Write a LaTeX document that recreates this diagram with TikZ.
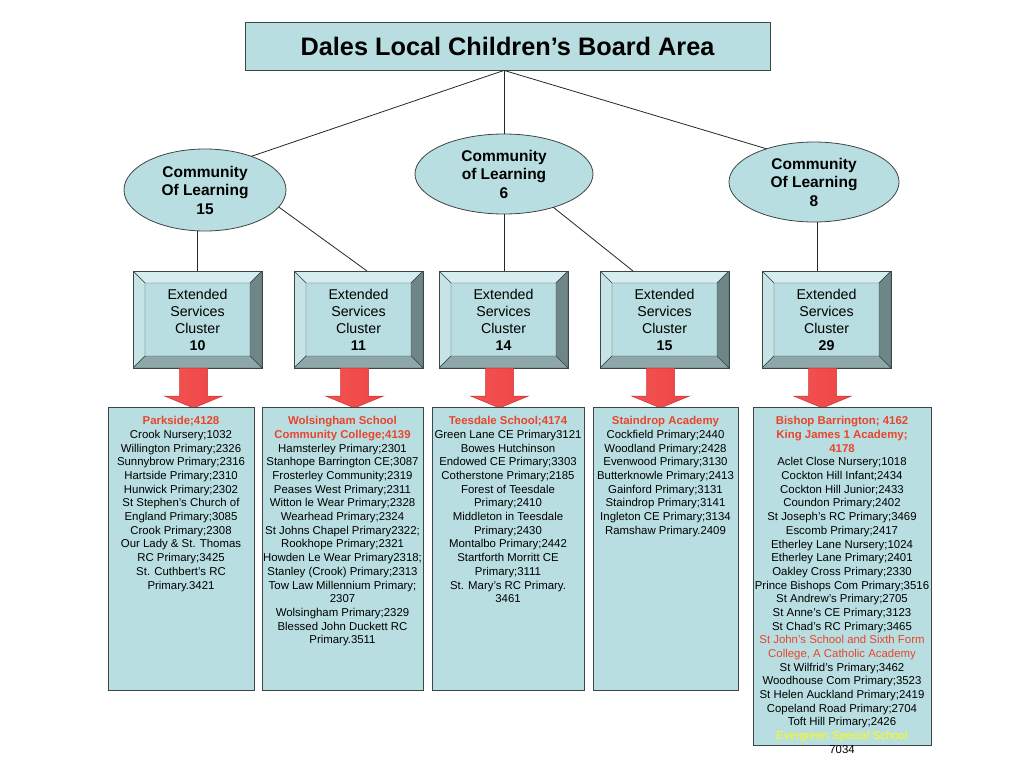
\documentclass[tikz,border=0pt]{standalone}
\usepackage{fontspec}
\setmainfont{Liberation Sans}
\usetikzlibrary{shapes.geometric}
\definecolor{boxblue}{HTML}{B9DEE1}
\definecolor{edgegrey}{HTML}{3C4646}
\definecolor{bevlight}{HTML}{D6EDEF}
\definecolor{bevside}{HTML}{C6E3E5}
\definecolor{bevdark}{HTML}{6E8688}
\definecolor{bevlow}{HTML}{8EA7A9}
\definecolor{arrowred}{HTML}{F04444}
\definecolor{arrowedge}{HTML}{C83434}
\definecolor{listred}{HTML}{E8452C}
\definecolor{listyellow}{HTML}{FFFF00}
\tikzset{
    headbox/.style={draw=edgegrey, fill=boxblue, line width=0.8pt, minimum width=525pt, minimum height=48pt, inner sep=0pt, font=\fontsize{25.3}{30}\selectfont\bfseries},
    colshape/.style={draw=edgegrey, fill=boxblue, ellipse, line width=0.8pt, inner sep=0pt, outer sep=0pt, align=center, font=\fontsize{15.5}{18.5}\selectfont\bfseries},
    cluster/.style={draw=edgegrey, fill=boxblue, line width=0.6pt, minimum width=129pt, minimum height=97pt, inner sep=0pt, outer sep=0pt,
        align=center, font=\fontsize{14.2}{17}\selectfont,
        path picture={
            \path (path picture bounding box.north west) coordinate (pnw)
                  (path picture bounding box.north east) coordinate (pne)
                  (path picture bounding box.south east) coordinate (pse)
                  (path picture bounding box.south west) coordinate (psw);
            \path ([xshift=12pt,yshift=-12pt]pnw) coordinate (qnw)
                  ([xshift=-12pt,yshift=-12pt]pne) coordinate (qne)
                  ([xshift=-12pt,yshift=12pt]pse) coordinate (qse)
                  ([xshift=12pt,yshift=12pt]psw) coordinate (qsw);
            \filldraw[fill=bevlight, draw=edgegrey, line width=0.4pt] (pnw) -- (pne) -- (qne) -- (qnw) -- cycle;
            \filldraw[fill=bevside, draw=edgegrey, line width=0.4pt] (pnw) -- (qnw) -- (qsw) -- (psw) -- cycle;
            \filldraw[fill=bevdark, draw=edgegrey, line width=0.4pt] (pne) -- (pse) -- (qse) -- (qne) -- cycle;
            \filldraw[fill=bevlow, draw=edgegrey, line width=0.4pt] (psw) -- (qsw) -- (qse) -- (pse) -- cycle;
        }},
    blockarrow/.style={left color=arrowred!92!white, right color=arrowred, draw=arrowedge, line width=0.5pt},
    listbox/.style={draw=edgegrey, fill=boxblue, line width=0.8pt, inner sep=0pt, outer sep=0pt},
    listtext/.style={anchor=north, align=center, inner sep=0pt, font=\fontsize{11.4}{13.67}\selectfont},
    conn/.style={draw=black!85, line width=0.8pt}
}
\newcommand{\schoolhead}[1]{\textcolor{listred}{\textbf{#1}}}

\begin{document}
\begin{tikzpicture}[x=1pt, y=-1pt]
    \useasboundingbox (0,0) rectangle (1024,768);

    % board and communities of learning
    \node[headbox] (area) at (507.5,46) {Dales Local Children’s Board Area};
    \node[colshape, minimum width=162pt, minimum height=82pt] (col15) at (205,190) {Community\\Of Learning\\15};
    \node[colshape, minimum width=178pt, minimum height=80pt] (col6) at (504,174) {Community\\of Learning\\6};
    \node[colshape, minimum width=170pt, minimum height=80pt] (col8) at (814,182) {Community\\Of Learning\\8};

    % extended services clusters
    \foreach \n/\x in {10/197.5, 11/358.5, 14/503.5, 15/664.5, 29/826.5} {
        \node[cluster] (c\n) at (\x,319.5) {Extended\\Services\\Cluster\\\textbf{\n}};
        \shadedraw[blockarrow] ([xshift=-18pt]c\n.south) -- ++(0,28) -- ++(-15,0) -- ++(29,12)
            -- ++(29,-12) -- ++(-15,0) -- ++(0,-28) -- cycle;
    }

    % school lists
    \node[listbox, minimum width=146pt, minimum height=283pt] (l10) at (181,548.5) {};
    \node[listbox, minimum width=161pt, minimum height=283pt] (l11) at (342.5,548.5) {};
    \node[listbox, minimum width=152pt, minimum height=283pt] (l14) at (508,548.5) {};
    \node[listbox, minimum width=145pt, minimum height=283pt] (l15) at (665.5,548.5) {};
    \node[listbox, minimum width=178pt, minimum height=338pt] (l29) at (842,576) {};

    \node[listtext] (l10text) at ([yshift=-9.5pt]l10.north) {\schoolhead{Parkside;4128}\\
        Crook Nursery;1032\\Willington Primary;2326\\Sunnybrow Primary;2316\\
        Hartside Primary;2310\\Hunwick Primary;2302\\St Stephen’s Church of\\
        England Primary;3085\\Crook Primary;2308\\Our Lady \& St. Thomas\\
        RC Primary;3425\\St. Cuthbert’s RC\\Primary.3421};
    \node[listtext] (l11text) at ([yshift=-9.5pt]l11.north) {\schoolhead{Wolsingham School}\\
        \schoolhead{Community College;4139}\\Hamsterley Primary;2301\\
        Stanhope Barrington CE;3087\\Frosterley Community;2319\\Peases West Primary;2311\\
        Witton le Wear Primary;2328\\Wearhead Primary;2324\\St Johns Chapel Primary2322;\\
        Rookhope Primary;2321\\Howden Le Wear Primary2318;\\Stanley (Crook) Primary;2313\\
        Tow Law Millennium Primary;\\2307\\Wolsingham Primary;2329\\
        Blessed John Duckett RC\\Primary.3511};
    \node[listtext] (l14text) at ([yshift=-9.5pt]l14.north) {\schoolhead{Teesdale School;4174}\\
        Green Lane CE Primary3121\\Bowes Hutchinson\\Endowed CE Primary;3303\\
        Cotherstone Primary;2185\\Forest of Teesdale\\Primary;2410\\
        Middleton in Teesdale\\Primary;2430\\Montalbo Primary;2442\\
        Startforth Morritt CE\\Primary;3111\\St. Mary’s RC Primary.\\3461};
    \node[listtext] (l15text) at ([yshift=-9.5pt]l15.north) {\schoolhead{Staindrop Academy}\\
        Cockfield Primary;2440\\Woodland Primary;2428\\Evenwood Primary;3130\\
        Butterknowle Primary;2413\\Gainford Primary;3131\\Staindrop Primary;3141\\
        Ingleton CE Primary;3134\\Ramshaw Primary.2409};
    \node[listtext] (l29text) at ([yshift=-9.5pt]l29.north) {\schoolhead{Bishop Barrington; 4162}\\
        \schoolhead{King James 1 Academy;}\\\schoolhead{4178}\\
        Aclet Close Nursery;1018\\Cockton Hill Infant;2434\\Cockton Hill Junior;2433\\
        Coundon Primary;2402\\St Joseph’s RC Primary;3469\\Escomb Primary;2417\\
        Etherley Lane Nursery;1024\\Etherley Lane Primary;2401\\Oakley Cross Primary;2330\\
        Prince Bishops Com Primary;3516\\St Andrew’s Primary;2705\\St Anne’s CE Primary;3123\\
        St Chad’s RC Primary;3465\\\textcolor{listred}{St John’s School and Sixth Form}\\
        \textcolor{listred}{College, A Catholic Academy}\\St Wilfrid’s Primary;3462\\
        Woodhouse Com Primary;3523\\St Helen Auckland Primary;2419\\
        Copeland Road Primary;2704\\Toft Hill Primary;2426\\
        \textcolor{listyellow}{Evergreen Special School}\\7034};

    % connectors
    \coordinate (hub) at (area.south -| col6.north);
    \draw[conn] (hub) -- (col15.36);
    \draw[conn] (hub) -- (col6.north);
    \draw[conn] (hub) -- (col8.145);
    \draw[conn] (c10.north) -- (c10.north |- col15.south);
    \draw[conn] (col15.-13) -- (c11.80);
    \draw[conn] (col6.south) -- (col6.south |- c14.north);
    \draw[conn] (col6.-34) -- (c15.123);
    \draw[conn] (col8.-85) -- (col8.-85 |- c29.north);
\end{tikzpicture}
\end{document}
